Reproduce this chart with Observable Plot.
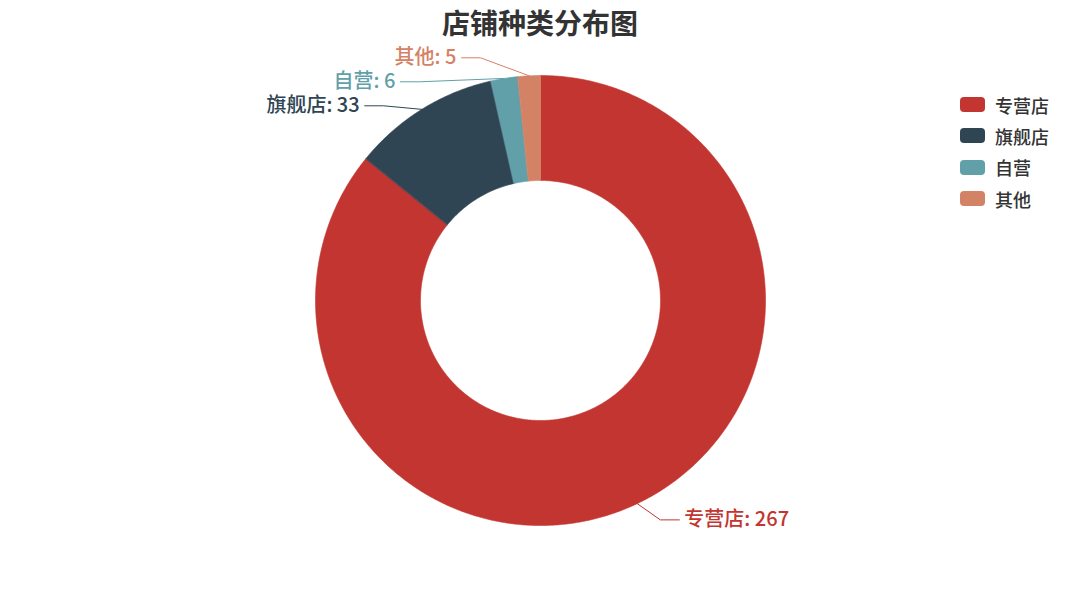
<!DOCTYPE html>
<html>
<head>
<meta charset="utf-8">
<script src="https://cdn.jsdelivr.net/npm/d3@7"></script>
<script src="https://cdn.jsdelivr.net/npm/@observablehq/plot@0.6"></script>
<style>
  html, body { margin: 0; padding: 0; background: #fff; }
  #wrap { position: relative; width: 1080px; height: 600px; font-family: "Noto Sans CJK SC", "Noto Sans", sans-serif; }
  #title { position: absolute; left: 0; width: 1080px; top: 2px; text-align: center; font-size: 28px; font-weight: bold; color: #333; line-height: 40px; }
  #legend { position: absolute; left: 960px; top: 89px; }
  .item { display: flex; align-items: center; height: 31.3px; font-size: 18px; font-weight: 500; color: #333; }
  .sw { width: 25px; height: 15px; border-radius: 4px; margin-right: 10px; }
  #chart { position: absolute; left: 0; top: 0; }
</style>
</head>
<body>
<div id="wrap">
  <div id="chart"></div>
  <div id="title">店铺种类分布图</div>
  <div id="legend"></div>
</div>
<script>
const names = ["专营店", "旗舰店", "自营", "其他"];
const values = [267, 33, 6, 5];
const colors = ["#c23531", "#2f4554", "#61a0a8", "#d48265"];

const W = 1080, H = 600;
const cx = 540, cy = 300;
const rInner = 120, rOuter = 225;
const rLabelY = 243, rElbow = 250, len2 = 19, gap = 24;

const pie = d3.pie().sort(null).value(d => d.value)(names.map((n, i) => ({name: n, value: values[i]})));

const pt = (a, r) => [Math.sin(a) * r, -Math.cos(a) * r];

// slice polygons
const polys = [];
pie.forEach(s => {
  const n = Math.max(4, Math.ceil((s.endAngle - s.startAngle) / (Math.PI / 360)));
  for (let k = 0; k <= n; k++) {
    const a = s.startAngle + (s.endAngle - s.startAngle) * k / n;
    const [x, y] = pt(a, rOuter);
    polys.push({name: s.data.name, x, y});
  }
  for (let k = n; k >= 0; k--) {
    const a = s.startAngle + (s.endAngle - s.startAngle) * k / n;
    const [x, y] = pt(a, rInner);
    polys.push({name: s.data.name, x, y});
  }
});

// label layout
const labs = pie.map(s => {
  const mid = (s.startAngle + s.endAngle) / 2;
  const [ex, ey] = pt(mid, rOuter);
  const side = Math.sin(mid) >= 0 ? 1 : -1;
  return {name: s.data.name, value: s.data.value, mid, ex, ey, side, ly: -Math.cos(mid) * rLabelY};
});
[1, -1].forEach(side => {
  const g = labs.filter(l => l.side === side).sort((a, b) => a.ly - b.ly);
  for (let i = 1; i < g.length; i++) {
    if (g[i].ly < g[i - 1].ly + gap) g[i].ly = g[i - 1].ly + gap;
  }
});
const lines = [];
labs.forEach(l => {
  const dy = Math.min(Math.abs(l.ly), rElbow);
  l.bx = l.side * Math.sqrt(rElbow * rElbow - dy * dy);
  if (l.side < 0) l.bx = Math.min(l.bx, l.ex - 12); else l.bx = Math.max(l.bx, l.ex + 12);
  l.tx = l.bx + l.side * len2;
  lines.push({name: l.name, x: l.ex, y: l.ey});
  lines.push({name: l.name, x: l.bx, y: l.ly});
  lines.push({name: l.name, x: l.tx, y: l.ly});
});

const color = {type: "ordinal", domain: names, range: colors};

const plot = Plot.plot({
  width: W, height: H,
  margin: 0,
  x: {domain: [-cx, W - cx], range: [0, W], axis: null},
  y: {domain: [-cy, H - cy], range: [0, H], axis: null},
  color,
  style: {background: "transparent", fontFamily: "\"Noto Sans CJK SC\", sans-serif"},
  marks: [
    Plot.line(polys, {x: "x", y: "y", z: "name", fill: "name", stroke: "name", strokeWidth: 0.6, curve: "linear-closed"}),
    Plot.line(lines, {x: "x", y: "y", z: "name", stroke: "name", strokeWidth: 1}),
    Plot.text(labs.filter(l => l.side > 0), {x: "tx", y: "ly", text: d => `${d.name}: ${d.value}`, fill: "name", textAnchor: "start", dx: 5, fontSize: 20, fontWeight: 500}),
    Plot.text(labs.filter(l => l.side < 0), {x: "tx", y: "ly", text: d => `${d.name}: ${d.value}`, fill: "name", textAnchor: "end", dx: -5, fontSize: 20, fontWeight: 500})
  ]
});
document.getElementById("chart").appendChild(plot);

const lg = document.getElementById("legend");
names.forEach((n, i) => {
  const it = document.createElement("div");
  it.className = "item";
  it.innerHTML = `<span class="sw" style="background:${colors[i]}"></span><span>${n}</span>`;
  lg.appendChild(it);
});
</script>
</body>
</html>
